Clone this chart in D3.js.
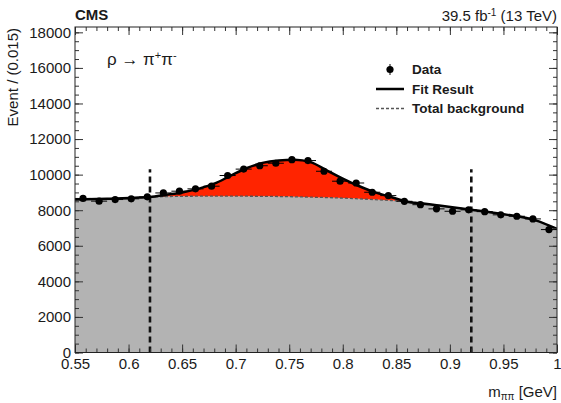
<!DOCTYPE html>
<html>
<head>
<meta charset="utf-8">
<script src="https://cdn.jsdelivr.net/npm/d3@7"></script>
<style>
	body { margin: 0; background: #fff; }
	text { font-family: "Liberation Sans", Arial, Helvetica, sans-serif; fill: #1a1a1a; }
</style>
</head>
<body>
<div id="chart"></div>
<script>
// binned data, bin width 0.015 GeV
var massBins = [0.5575, 0.5725, 0.5875, 0.6025, 0.6175, 0.6325, 0.6475, 0.6625, 0.6775, 0.6925,
	0.7075, 0.7225, 0.7375, 0.7525, 0.7675, 0.7825, 0.7975, 0.8125, 0.8275, 0.8425,
	0.8575, 0.8725, 0.8875, 0.9025, 0.9175, 0.9325, 0.9475, 0.9625, 0.9775, 0.9925];
var dataCounts = [8660, 8510, 8600, 8640, 8750, 8970, 9070, 9200, 9350, 9950,
	10310, 10500, 10640, 10840, 10790, 10190, 9630, 9530, 9010, 8820,
	8500, 8310, 8075, 7940, 8020, 7920, 7740, 7660, 7510, 6910];
var dataErr = [93, 92, 93, 93, 94, 95, 95, 96, 97, 100,
	102, 102, 103, 104, 104, 101, 98, 98, 95, 94,
	92, 91, 90, 89, 90, 89, 88, 88, 87, 83];
var binHalf = 0.0075;

// fit result and total background
var fitMass  = [0.55, 0.58, 0.61, 0.62, 0.635, 0.65, 0.665, 0.68, 0.695, 0.71, 0.725, 0.74, 0.755,
	0.77, 0.785, 0.80, 0.815, 0.83, 0.845, 0.86, 0.875, 0.89, 0.92, 0.95, 0.98, 1.0];
var fitTotal = [8600, 8650, 8710, 8745, 8870, 9000, 9200, 9490, 9930, 10360, 10660, 10800, 10840,
	10700, 10240, 9780, 9360, 9000, 8745, 8480, 8380, 8260, 8030, 7780, 7430, 6950];
var fitBkg   = [8600, 8650, 8710, 8740, 8765, 8780, 8788, 8790, 8790, 8787, 8780, 8770, 8755,
	8735, 8710, 8680, 8640, 8595, 8545, 8480, 8380, 8260, 8030, 7780, 7430, 6950];

var signalWindow = [0.62, 0.92];
var windowLineTop = 10300;

var xTicks = [0.55, 0.6, 0.65, 0.7, 0.75, 0.8, 0.85, 0.9, 0.95, 1];
var xTickLabels = ["0.55", "0.6", "0.65", "0.7", "0.75", "0.8", "0.85", "0.9", "0.95", "1"];
var yTicks = [0, 2000, 4000, 6000, 8000, 10000, 12000, 14000, 16000, 18000];
var yTickLabels = ["0", "2000", "4000", "6000", "8000", "10000", "12000", "14000", "16000", "18000"];

var width = 561, height = 403;
var frame = {left: 75, right: 557, top: 27, bottom: 352.5};

var svg = d3.select("#chart").append("svg")
	.attr("width", width)
	.attr("height", height);

var x = d3.scaleLinear().domain([0.55, 1]).range([frame.left, frame.right]);
var y = d3.scaleLinear().domain([0, 18300]).range([frame.bottom, frame.top]);

var fitPts = fitMass.map(function(m, i) { return {m: m, tot: fitTotal[i], bkg: fitBkg[i]}; });

svg.append("clipPath").attr("id", "plotclip")
	.append("rect").attr("x", frame.left).attr("y", frame.top)
	.attr("width", frame.right - frame.left).attr("height", frame.bottom - frame.top);
svg.append("clipPath").attr("id", "winclip")
	.append("rect").attr("x", x(signalWindow[0])).attr("y", frame.top)
	.attr("width", x(signalWindow[1]) - x(signalWindow[0])).attr("height", frame.bottom - frame.top);

var plot = svg.append("g").attr("clip-path", "url(#plotclip)");

// grey background area
plot.append("path")
	.datum(fitPts)
	.attr("fill", "#b3b3b3")
	.attr("d", d3.area().curve(d3.curveMonotoneX)
		.x(function(d) { return x(d.m); })
		.y0(y(0))
		.y1(function(d) { return y(d.bkg); }));

// red signal between background and fit
plot.append("path")
	.datum(fitPts)
	.attr("clip-path", "url(#winclip)")
	.attr("fill", "#ff2400")
	.attr("d", d3.area().curve(d3.curveMonotoneX)
		.x(function(d) { return x(d.m); })
		.y0(function(d) { return y(d.bkg); })
		.y1(function(d) { return y(d.tot); }));

plot.append("path")
	.datum(fitPts)
	.attr("fill", "none")
	.attr("stroke", "#555")
	.attr("stroke-width", 1.3)
	.attr("stroke-dasharray", "3,2")
	.attr("d", d3.line().curve(d3.curveMonotoneX)
		.x(function(d) { return x(d.m); })
		.y(function(d) { return y(d.bkg); }));

// vertical window lines
plot.selectAll(".win")
	.data(signalWindow)
	.enter().append("line")
	.attr("x1", function(d) { return x(d); })
	.attr("x2", function(d) { return x(d); })
	.attr("y1", y(0))
	.attr("y2", y(windowLineTop))
	.attr("stroke", "#111")
	.attr("stroke-width", 2.6)
	.attr("stroke-dasharray", "6,4");

plot.append("path")
	.datum(fitPts)
	.attr("fill", "none")
	.attr("stroke", "#000")
	.attr("stroke-width", 2.5)
	.attr("d", d3.line().curve(d3.curveMonotoneX)
		.x(function(d) { return x(d.m); })
		.y(function(d) { return y(d.tot); }));

// data points
var pts = plot.selectAll(".pt")
	.data(massBins.map(function(m, i) { return {m: m, n: dataCounts[i], e: dataErr[i]}; }))
	.enter().append("g");

pts.append("line")
	.attr("x1", function(d) { return x(d.m - binHalf); })
	.attr("x2", function(d) { return x(d.m + binHalf); })
	.attr("y1", function(d) { return y(d.n); })
	.attr("y2", function(d) { return y(d.n); })
	.attr("stroke", "#000").attr("stroke-width", 1);
pts.append("line")
	.attr("x1", function(d) { return x(d.m); })
	.attr("x2", function(d) { return x(d.m); })
	.attr("y1", function(d) { return y(d.n - d.e); })
	.attr("y2", function(d) { return y(d.n + d.e); })
	.attr("stroke", "#000").attr("stroke-width", 1);
pts.append("circle")
	.attr("cx", function(d) { return x(d.m); })
	.attr("cy", function(d) { return y(d.n); })
	.attr("r", 3.6)
	.attr("fill", "#000");

// axes, ticks pointing inward on all sides
function styleAxis(g) {
	g.select(".domain").remove();
	g.selectAll(".tick line").attr("stroke", "#333");
	g.selectAll("text").style("font-size", "15px").attr("fill", "#1a1a1a");
}

svg.append("g").attr("transform", "translate(0," + frame.bottom + ")")
	.call(d3.axisBottom(x).tickValues(xTicks).tickFormat(function(d, i) { return xTickLabels[i]; })
		.tickSize(-8).tickPadding(6))
	.call(styleAxis);
svg.append("g").attr("transform", "translate(0," + frame.bottom + ")")
	.call(d3.axisBottom(x).ticks(45).tickFormat("").tickSize(-4))
	.call(styleAxis);
svg.append("g").attr("transform", "translate(0," + frame.top + ")")
	.call(d3.axisTop(x).tickValues(xTicks).tickFormat("").tickSize(-8))
	.call(styleAxis);
svg.append("g").attr("transform", "translate(0," + frame.top + ")")
	.call(d3.axisTop(x).ticks(45).tickFormat("").tickSize(-4))
	.call(styleAxis);

svg.append("g").attr("transform", "translate(" + frame.left + ",0)")
	.call(d3.axisLeft(y).tickValues(yTicks).tickFormat(function(d, i) { return yTickLabels[i]; })
		.tickSize(-8).tickPadding(4))
	.call(styleAxis);
svg.append("g").attr("transform", "translate(" + frame.left + ",0)")
	.call(d3.axisLeft(y).ticks(36).tickFormat("").tickSize(-4))
	.call(styleAxis);
svg.append("g").attr("transform", "translate(" + frame.right + ",0)")
	.call(d3.axisRight(y).tickValues(yTicks).tickFormat("").tickSize(-8))
	.call(styleAxis);
svg.append("g").attr("transform", "translate(" + frame.right + ",0)")
	.call(d3.axisRight(y).ticks(36).tickFormat("").tickSize(-4))
	.call(styleAxis);

svg.append("rect")
	.attr("x", frame.left).attr("y", frame.top)
	.attr("width", frame.right - frame.left).attr("height", frame.bottom - frame.top)
	.attr("fill", "none").attr("stroke", "#222").attr("stroke-width", 1);

// titles
svg.append("text")
	.attr("transform", "translate(18," + (frame.top + 1) + ") rotate(-90)")
	.attr("text-anchor", "end")
	.style("font-size", "15px")
	.text("Event / (0.015)");

var xt = svg.append("text")
	.attr("x", frame.right).attr("y", 397)
	.attr("text-anchor", "end")
	.style("font-size", "15px");
xt.append("tspan").text("m");
xt.append("tspan").attr("dy", 3).style("font-size", "10px").text("ππ");
xt.append("tspan").attr("dy", -3).text(" [GeV]");

svg.append("text")
	.attr("x", frame.left).attr("y", 20)
	.style("font-size", "15px").style("font-weight", "bold")
	.text("CMS");

var lumi = svg.append("text")
	.attr("x", frame.right).attr("y", 21)
	.attr("text-anchor", "end")
	.style("font-size", "15px");
lumi.append("tspan").text("39.5 fb");
lumi.append("tspan").attr("dy", -5).style("font-size", "10px").text("-1");
lumi.append("tspan").attr("dy", 5).text(" (13 TeV)");

var proc = svg.append("text")
	.attr("x", 107).attr("y", 65)
	.style("font-size", "17px");
proc.append("tspan").text("ρ → π");
proc.append("tspan").attr("dy", -6).style("font-size", "11px").text("+");
proc.append("tspan").attr("dy", 6).text("π");
proc.append("tspan").attr("dy", -6).style("font-size", "11px").text("-");

// legend
var legend = svg.append("g");
legend.append("line").attr("x1", 390).attr("x2", 390).attr("y1", 64).attr("y2", 75)
	.attr("stroke", "#000").attr("stroke-width", 1);
legend.append("circle").attr("cx", 390).attr("cy", 69.5).attr("r", 3.6).attr("fill", "#000");
legend.append("line").attr("x1", 376).attr("x2", 404).attr("y1", 89).attr("y2", 89)
	.attr("stroke", "#000").attr("stroke-width", 2.5);
legend.append("line").attr("x1", 376).attr("x2", 404).attr("y1", 108.5).attr("y2", 108.5)
	.attr("stroke", "#555").attr("stroke-width", 1.3).attr("stroke-dasharray", "3,2");

var legendLabels = ["Data", "Fit Result", "Total background"];
legend.selectAll(".lt")
	.data(legendLabels)
	.enter().append("text")
	.attr("x", 412)
	.attr("y", function(d, i) { return 74 + i * 19.5; })
	.style("font-size", "13.5px").style("font-weight", "bold")
	.text(function(d) { return d; });
</script>
</body>
</html>
